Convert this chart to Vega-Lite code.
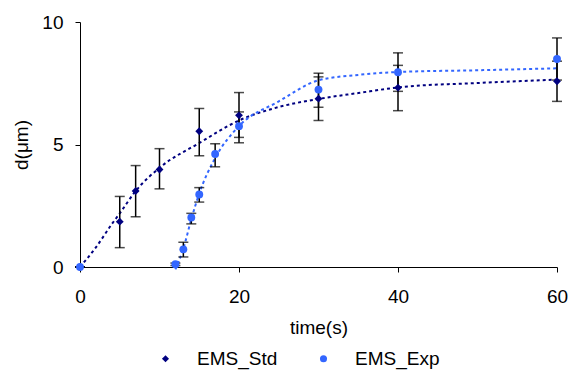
{
  "$schema": "https://vega.github.io/schema/vega-lite/v6.json",
  "width": 477,
  "height": 245,
  "autosize": "none",
  "padding": {"left": 80, "top": 22, "right": 11, "bottom": 109},
  "background": "white",
  "config": {
    "font": "Liberation Sans",
    "view": {"stroke": null},
    "axis": {
      "grid": false,
      "labelFlush": false,
      "domainColor": "#000000",
      "domainWidth": 1,
      "tickColor": "#000000",
      "tickSize": 5,
      "labelColor": "#000000",
      "labelFontSize": 19,
      "titleFontSize": 19,
      "titleFontWeight": "normal",
      "titleColor": "#000000"
    },
    "legend": {
      "labelFontSize": 19,
      "labelColor": "#000000"
    }
  },
  "datasets": {
    "pts": [
      {"series": "EMS_Std", "t": 0, "d": 0, "lo": 0, "hi": 0},
      {"series": "EMS_Std", "t": 5, "d": 1.85, "lo": 0.79, "hi": 2.88},
      {"series": "EMS_Std", "t": 7, "d": 3.1, "lo": 2.05, "hi": 4.14},
      {"series": "EMS_Std", "t": 10, "d": 3.98, "lo": 3.19, "hi": 4.83},
      {"series": "EMS_Std", "t": 15, "d": 5.54, "lo": 4.54, "hi": 6.47},
      {"series": "EMS_Std", "t": 20, "d": 6.19, "lo": 5.29, "hi": 7.12},
      {"series": "EMS_Std", "t": 30, "d": 6.87, "lo": 5.98, "hi": 7.76},
      {"series": "EMS_Std", "t": 40, "d": 7.32, "lo": 6.38, "hi": 8.23},
      {"series": "EMS_Std", "t": 60, "d": 7.58, "lo": 6.76, "hi": 8.4},
      {"series": "EMS_Exp", "t": 0, "d": 0, "lo": 0, "hi": 0},
      {"series": "EMS_Exp", "t": 12, "d": 0.11, "lo": 0.06, "hi": 0.16},
      {"series": "EMS_Exp", "t": 13, "d": 0.72, "lo": 0.41, "hi": 1.01},
      {"series": "EMS_Exp", "t": 14, "d": 2.02, "lo": 1.76, "hi": 2.19},
      {"series": "EMS_Exp", "t": 15, "d": 2.96, "lo": 2.65, "hi": 3.24},
      {"series": "EMS_Exp", "t": 17, "d": 4.61, "lo": 4.09, "hi": 5.03},
      {"series": "EMS_Exp", "t": 20, "d": 5.75, "lo": 5.07, "hi": 6.33},
      {"series": "EMS_Exp", "t": 30, "d": 7.24, "lo": 6.52, "hi": 7.91},
      {"series": "EMS_Exp", "t": 40, "d": 7.95, "lo": 7.17, "hi": 8.74},
      {"series": "EMS_Exp", "t": 60, "d": 8.49, "lo": 7.63, "hi": 9.35}
    ],
    "trend": [
      {"series": "EMS_Std", "t": 0, "d": 0},
      {"series": "EMS_Std", "t": 2, "d": 0.8},
      {"series": "EMS_Std", "t": 4, "d": 1.75},
      {"series": "EMS_Std", "t": 5, "d": 2.19},
      {"series": "EMS_Std", "t": 7, "d": 3.1},
      {"series": "EMS_Std", "t": 10, "d": 4.05},
      {"series": "EMS_Std", "t": 15, "d": 5.06},
      {"series": "EMS_Std", "t": 20, "d": 5.98},
      {"series": "EMS_Std", "t": 25, "d": 6.53},
      {"series": "EMS_Std", "t": 30, "d": 6.86},
      {"series": "EMS_Std", "t": 35, "d": 7.1},
      {"series": "EMS_Std", "t": 40, "d": 7.33},
      {"series": "EMS_Std", "t": 50, "d": 7.51},
      {"series": "EMS_Std", "t": 60, "d": 7.65},
      {"series": "EMS_Exp", "t": 12, "d": -0.1},
      {"series": "EMS_Exp", "t": 13, "d": 0.75},
      {"series": "EMS_Exp", "t": 14, "d": 1.95},
      {"series": "EMS_Exp", "t": 15, "d": 3.0},
      {"series": "EMS_Exp", "t": 17, "d": 4.45},
      {"series": "EMS_Exp", "t": 20, "d": 5.75},
      {"series": "EMS_Exp", "t": 25, "d": 6.76},
      {"series": "EMS_Exp", "t": 30, "d": 7.62},
      {"series": "EMS_Exp", "t": 35, "d": 7.84},
      {"series": "EMS_Exp", "t": 40, "d": 7.96},
      {"series": "EMS_Exp", "t": 50, "d": 8.03},
      {"series": "EMS_Exp", "t": 60, "d": 8.11}
    ]
  },
  "layer": [
    {
      "data": {"name": "trend"},
      "transform": [{"filter": "datum.series === 'EMS_Std'"}],
      "mark": {"type": "line", "color": "#000080", "strokeDash": [3, 3], "strokeWidth": 2, "interpolate": "monotone"},
      "encoding": {
        "x": {"field": "t", "type": "quantitative", "title": "time(s)", "scale": {"domain": [0, 60], "nice": false},
              "axis": {"values": [0, 20, 40, 60], "labelPadding": 15, "titlePadding": 12}},
        "y": {"field": "d", "type": "quantitative", "title": "d(μm)", "scale": {"domain": [0, 10], "nice": false},
              "axis": {"values": [0, 5, 10], "labelPadding": 12, "titlePadding": 10}}
      }
    },
    {
      "data": {"name": "trend"},
      "transform": [{"filter": "datum.series === 'EMS_Exp'"}],
      "mark": {"type": "line", "color": "#3366ff", "strokeDash": [3, 3], "strokeWidth": 2, "interpolate": "monotone"},
      "encoding": {
        "x": {"field": "t", "type": "quantitative", "title": "time(s)"},
        "y": {"field": "d", "type": "quantitative", "title": "d(μm)"}
      }
    },
    {
      "data": {"name": "pts"},
      "mark": {"type": "rule", "color": "#000000", "strokeWidth": 1.5},
      "encoding": {
        "x": {"field": "t", "type": "quantitative", "title": "time(s)"},
        "y": {"field": "lo", "type": "quantitative", "title": "d(μm)"},
        "y2": {"field": "hi"}
      }
    },
    {
      "data": {"name": "pts"},
      "mark": {"type": "tick", "orient": "horizontal", "size": 10, "thickness": 1.5, "color": "#000000"},
      "encoding": {
        "x": {"field": "t", "type": "quantitative", "title": "time(s)"},
        "y": {"field": "lo", "type": "quantitative", "title": "d(μm)"}
      }
    },
    {
      "data": {"name": "pts"},
      "mark": {"type": "tick", "orient": "horizontal", "size": 10, "thickness": 1.5, "color": "#000000"},
      "encoding": {
        "x": {"field": "t", "type": "quantitative", "title": "time(s)"},
        "y": {"field": "hi", "type": "quantitative", "title": "d(μm)"}
      }
    },
    {
      "data": {"name": "pts"},
      "mark": {"type": "point", "filled": true, "opacity": 1, "size": 62},
      "encoding": {
        "x": {"field": "t", "type": "quantitative", "title": "time(s)"},
        "y": {"field": "d", "type": "quantitative", "title": "d(μm)"},
        "color": {"field": "series", "type": "nominal",
                  "scale": {"domain": ["EMS_Std", "EMS_Exp"], "range": ["#000080", "#3366ff"]},
                  "legend": {"orient": "none", "legendX": 76, "legendY": 327, "direction": "horizontal", "title": null,
                             "labelOffset": 22, "columnPadding": 36, "symbolSize": 50, "symbolStrokeWidth": 0}},
        "shape": {"field": "series", "type": "nominal",
                  "scale": {"domain": ["EMS_Std", "EMS_Exp"], "range": ["diamond", "circle"]},
                  "legend": {"orient": "none", "legendX": 76, "legendY": 327, "direction": "horizontal", "title": null,
                             "labelOffset": 22, "columnPadding": 36, "symbolSize": 50, "symbolStrokeWidth": 0}}
      }
    }
  ]
}
